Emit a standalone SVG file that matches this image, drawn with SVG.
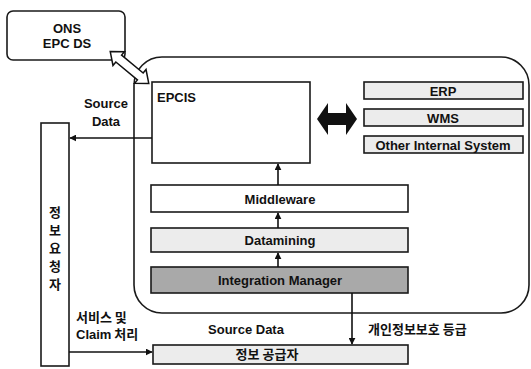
<svg xmlns="http://www.w3.org/2000/svg" width="531" height="369" viewBox="0 0 531 369">
<defs>
<marker id="ah" viewBox="0 0 10 10" refX="9" refY="5" markerWidth="7" markerHeight="7" markerUnits="userSpaceOnUse" orient="auto">
<path d="M0,0 L10,5 L0,10 z" fill="#111"/>
</marker>
<style>
.t{font-family:"Liberation Sans","Noto Sans CJK KR",Arial,sans-serif;font-weight:bold;font-size:13px;fill:#111}
.k{font-family:"Noto Sans CJK KR","Liberation Sans",sans-serif;font-weight:bold;font-size:13px;fill:#111}
.box{stroke:#1a1a1a;stroke-width:1.6}
.light{fill:#ececec}
.white{fill:#fff}
.dark{fill:#a9a9a9}
.ln{stroke:#111;stroke-width:1.6;fill:none}
</style>
</defs>
<rect width="531" height="369" fill="#fff"/>

<g id="region">
<rect x="134" y="57" width="395" height="256" rx="28" ry="28" fill="none" stroke="#1a1a1a" stroke-width="1.6"/>
</g>

<g id="ons">
<rect class="box white" x="7" y="11" width="118" height="49" rx="6"/>
<text class="t" x="67" y="33" text-anchor="middle">ONS</text>
<text class="t" x="67" y="48" text-anchor="middle">EPC DS</text>
</g>

<g id="epcis">
<rect class="box white" x="152" y="82" width="158" height="81"/>
<text class="t" x="157" y="102">EPCIS</text>
</g>

<g id="erp">
<rect class="box light" x="364" y="82" width="159" height="17"/>
<text class="t" x="443" y="96" text-anchor="middle">ERP</text>
</g>
<g id="wms">
<rect class="box light" x="364" y="109" width="159" height="17"/>
<text class="t" x="443" y="123" text-anchor="middle">WMS</text>
</g>
<g id="other">
<rect class="box light" x="364" y="136" width="159" height="17"/>
<text class="t" x="443" y="149.5" text-anchor="middle" font-size="13.5">Other Internal System</text>
</g>

<g id="middleware">
<rect class="box white" x="151" y="185" width="257" height="27"/>
<text class="t" x="280" y="204" text-anchor="middle">Middleware</text>
</g>
<g id="datamining">
<rect class="box light" x="151" y="228" width="257" height="24"/>
<text class="t" x="280" y="245" text-anchor="middle">Datamining</text>
</g>
<g id="integration">
<rect class="box dark" x="151" y="267" width="257" height="26"/>
<text class="t" x="280" y="285" text-anchor="middle">Integration Manager</text>
</g>

<g id="requester">
<rect class="box white" x="41" y="123" width="28" height="243"/>
<text class="k" x="55" y="206" font-size="11" writing-mode="vertical-rl" text-orientation="upright" letter-spacing="5">정보요청자</text>
</g>

<g id="supplier">
<rect class="box light" x="153" y="345" width="255" height="19"/>
<text class="k" x="267" y="359" text-anchor="middle" font-size="11">정보 공급자</text>
</g>

<g id="connectors">
<polygon points="-25,0 -14,-9 -14,-4.5 14,-4.5 14,-9 25,0 14,9 14,4.5 -14,4.5 -14,9" transform="translate(129.5,67.5) rotate(39.6)" fill="#fff" stroke="#111" stroke-width="1.5" stroke-linejoin="miter"/>
<polygon points="317,119 328,103 328,113 346,113 346,103 357,119 346,135 346,125 328,125 328,135" fill="#111"/>
<line class="ln" x1="152" y1="138" x2="70" y2="138" marker-end="url(#ah)"/>
<line class="ln" x1="278" y1="185" x2="278" y2="164" marker-end="url(#ah)"/>
<line class="ln" x1="278" y1="228" x2="278" y2="213" marker-end="url(#ah)"/>
<line class="ln" x1="278" y1="267" x2="278" y2="253" marker-end="url(#ah)"/>
<line class="ln" x1="352" y1="293" x2="352" y2="344" marker-end="url(#ah)"/>
<line class="ln" x1="69" y1="352" x2="152" y2="352" marker-end="url(#ah)"/>
</g>

<g id="labels">
<text class="t" x="106" y="108" text-anchor="middle" font-size="12">Source</text>
<text class="t" x="106" y="126" text-anchor="middle" font-size="12">Data</text>
<text class="k" x="76" y="322">서비스 및</text>
<text class="k" x="76" y="339"><tspan class="t" font-size="12">Claim</tspan> 처리</text>
<text class="t" x="246" y="334" text-anchor="middle" font-size="12">Source Data</text>
<text class="k" x="368" y="334">개인정보보호 등급</text>
</g>
</svg>
